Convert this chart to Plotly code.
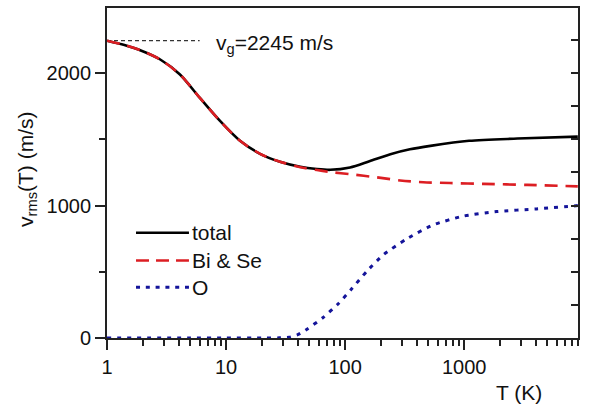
import plotly.graph_objects as go

# Temperature grid (K) and rms sound velocities (m/s)
T_total = [1, 1.4, 1.9, 2.8, 4.1, 6.0, 8.9, 13.1, 19.3, 28.4, 42, 58, 75, 110, 160, 240, 350, 520, 1100, 2800, 9000]
v_total = [2245, 2212, 2173, 2103, 1990, 1815, 1639, 1489, 1391, 1331, 1293, 1276, 1270, 1288, 1335, 1388, 1425, 1451, 1489, 1506, 1521]

T_bise = [1, 1.4, 1.9, 2.8, 4.1, 6.0, 8.9, 13.1, 19.3, 28.4, 42, 58, 75, 110, 185, 290, 453, 760, 1450, 3400, 9000]
v_bise = [2245, 2212, 2173, 2103, 1990, 1815, 1639, 1489, 1391, 1331, 1290, 1268, 1253, 1237, 1213, 1190, 1176, 1170, 1164, 1156, 1145]

T_o = [1, 5, 10, 20, 28, 34, 40, 47.5, 65, 88, 114, 152, 210, 330, 550, 980, 1880, 4060, 9000]
v_o = [0, 0, 0, 0, 1, 6, 25, 65, 153, 261, 373, 504, 629, 749, 854, 920, 955, 975, 1000]

# Group velocity reference level
vg = 2245
T_vg = [1, 6]

x_ticks = [1, 10, 100, 1000]
x_ticktext = ["1", "10", "100", "1000"]
x_minor = [m * 10 ** e for e in range(4) for m in range(2, 10)]
y_ticks = [0, 1000, 2000]
y_minor = [500, 1500]
y_right = [0, 250, 500, 750, 1000, 1250, 1500, 1750, 2000, 2250]
y_range = [0, 2492]

BLACK = "#000000"
RED = "#dc1e23"
BLUE = "#14149a"
AXIS = "#222222"
FONT = "Liberation Sans, Arial, sans-serif"

fig = go.Figure()

fig.add_trace(go.Scatter(
    x=T_vg, y=[vg] * len(T_vg), mode="lines",
    line=dict(color=BLACK, width=1, dash="4px,3px"), showlegend=False))

fig.add_trace(go.Scatter(
    x=T_total, y=v_total, mode="lines", name="total",
    line=dict(color=BLACK, width=2.6, shape="spline", smoothing=0.8)))

fig.add_trace(go.Scatter(
    x=T_bise, y=v_bise, mode="lines", name="Bi & Se",
    line=dict(color=RED, width=2.6, dash="13px,8px", shape="spline", smoothing=0.8)))

# O partial curve sits on the right-hand axis (same scale as the left one)
fig.add_trace(go.Scatter(
    x=T_o, y=v_o, mode="lines", name="O", yaxis="y2",
    line=dict(color=BLUE, width=3, dash="4px,6px", shape="spline", smoothing=0.6)))

fig.update_layout(
    width=593, height=407,
    margin=dict(l=107, r=15, t=6, b=69),
    paper_bgcolor="white", plot_bgcolor="white",
    showlegend=False,
    font=dict(family=FONT, size=20, color="#111111"),
    xaxis=dict(
        type="log", range=[0, 3.956],
        tickvals=x_ticks, ticktext=x_ticktext,
        ticks="outside", ticklen=10, tickwidth=1.5, tickcolor=AXIS,
        minor=dict(tickvals=x_minor, ticks="outside", ticklen=6, tickwidth=1.5,
                   tickcolor=AXIS, showgrid=False),
        showline=True, linecolor=AXIS, linewidth=1.8, mirror=True,
        showgrid=False, zeroline=False,
        tickfont=dict(size=20),
    ),
    yaxis=dict(
        range=y_range,
        tickvals=y_ticks,
        ticks="outside", ticklen=10, tickwidth=1.5, tickcolor=AXIS,
        minor=dict(tickvals=y_minor, ticks="outside", ticklen=6, tickwidth=1.5,
                   tickcolor=AXIS, showgrid=False),
        showline=True, linecolor=AXIS, linewidth=1.8,
        showgrid=False, zeroline=False,
        tickfont=dict(size=20),
    ),
    yaxis2=dict(
        overlaying="y", side="right", anchor="x",
        range=y_range, tickvals=y_right,
        ticks="inside", ticklen=7, tickwidth=1.5, tickcolor=AXIS,
        showticklabels=False,
        showline=True, linecolor=AXIS, linewidth=1.8,
        showgrid=False, zeroline=False,
    ),
)

# Axis titles
fig.add_annotation(text="T (K)", xref="paper", yref="paper", x=0.875, y=-0.166,
                   showarrow=False, font=dict(size=21), xanchor="center", yanchor="middle")
fig.add_annotation(text="v<sub>rms</sub>(T) (m/s)", xref="paper", yref="paper",
                   x=-0.17, y=0.512, textangle=-90, showarrow=False,
                   font=dict(size=21), xanchor="center", yanchor="middle")

# Group velocity label
fig.add_annotation(text=f"v<sub>g</sub>={vg} m/s", xref="paper", yref="y",
                   x=0.227, y=vg - 25, showarrow=False, font=dict(size=21),
                   xanchor="left", yanchor="middle")

# Legend drawn as line samples with labels
legend_rows = [("total", BLACK, "solid", 2.6, 0.319),
               ("Bi & Se", RED, "13px,7px", 2.6, 0.235),
               ("O", BLUE, "4px,5.8px", 3, 0.154)]
for label, color, dash, width, yp in legend_rows:
    fig.add_shape(type="line", xref="paper", yref="paper",
                  x0=0.0616, x1=0.174, y0=yp, y1=yp,
                  line=dict(color=color, width=width, dash=dash))
    fig.add_annotation(text=label, xref="paper", yref="paper", x=0.176, y=yp,
                       showarrow=False, font=dict(size=21),
                       xanchor="left", yanchor="middle")

fig.write_html("out.html")
